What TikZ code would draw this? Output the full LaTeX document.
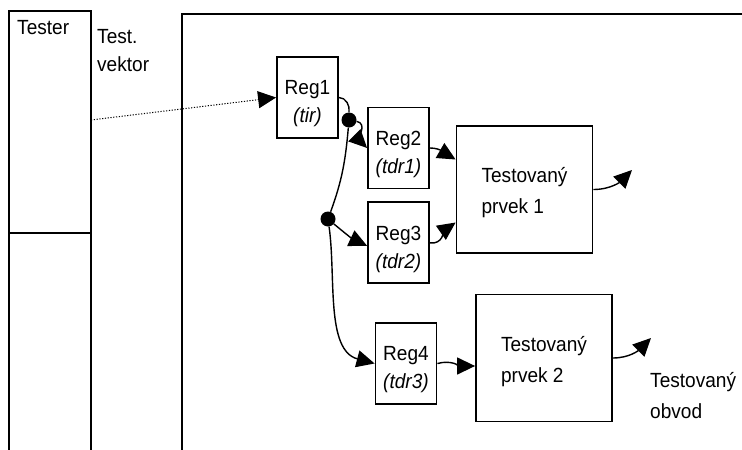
\documentclass[tikz,border=0pt]{standalone}
\usepackage{fontspec}
\setmainfont{Liberation Sans}[FakeStretch=0.93]
\usetikzlibrary{shapes,arrows.meta,positioning}

\newcommand{\topgap}[1]{\rule{0pt}{#1pt}}

\begin{document}
\begin{tikzpicture}[x=1pt, y=-1pt, font=\fontsize{20.5}{28}\selectfont]
    % Define block styles
    \tikzstyle{block} = [rectangle, draw, line width=1.8pt, inner sep=0pt, align=center, minimum width=61pt, minimum height=81pt]
    \tikzstyle{dut} = [rectangle, draw, line width=1.8pt, inner sep=0pt, align=left, minimum width=136pt, minimum height=127pt, font=\fontsize{20.5}{31}\selectfont]
    \tikzstyle{frame} = [draw, line width=1.8pt]
    \tikzstyle{line} = [draw, line width=1.4pt, -{Triangle[length=18pt,width=17pt]}]
    \tikzstyle{wire} = [draw, line width=1.4pt]
    \tikzstyle{junction} = [circle, fill, inner sep=0pt, minimum size=15pt]
    \tikzstyle{label} = [anchor=base west, inner sep=0pt, align=left]

    \useasboundingbox (0,0) rectangle (742,450);

    % Frames
    \path [frame] (9,455) -- (9,11) -- (91,11) -- (91,455);
    \path [frame] (9,233) -- (91,233);
    \path [frame] (182,455) -- (182,14) -- (745,14);

    % Labels
    \node [label] (Tester) at (17,34) {Tester};
    \node [label] (Vector_Label) at (97,71) {Test.\\vektor};
    \node [label, font=\fontsize{20.5}{31}\selectfont] (Circuit_Label) at (650,418) {Testovaný\\obvod};

    % Nodes
    \node [block] (Reg1) at (307.5,97.5) {\topgap{27}Reg1\\\textit{(tir)}};
    \node [block] (Reg2) at (398.5,148) {\topgap{27}Reg2\\\textit{(tdr1)}};
    \node [block, below=12pt of Reg2] (Reg3) {\topgap{27}Reg3\\\textit{(tdr2)}};
    \node [block] (Reg4) at (406,363.5) {\topgap{27}Reg4\\\textit{(tdr3)}};
    \node [dut] (Prvek1) at (524.5,189.5) {\topgap{22}Testovaný\\prvek 1};
    \node [dut] (Prvek2) at (544,358) {\topgap{22}Testovaný\\prvek 2};
    \node [junction] (Split1) at (349,120) {};
    \node [junction] (Split2) at (328,219) {};
    \coordinate (Vector_Out) at (91,120);
    \coordinate (Out1) at (632,170);
    \coordinate (Out2) at (651,338);

    % Arrows
    \path [line, line width=1pt, dash pattern=on 1.2pt off 1.6pt] (Vector_Out) -- (Reg1.west);
    \path [wire] (Reg1.east) to[out=0, in=80] (Split1.north);
    \path [wire] (Split1) to[out=-95, in=70] (Split2);
    \path [line] (Split1) to[out=-10, in=135] (Reg2.west);
    \path [line] (Split2) to[out=-40, in=155] ([yshift=-3pt]Reg3.west);
    \path [line] (Split2) to[out=-82, in=165, looseness=0.9] (Reg4.west);
    \path [line] (Reg2.east) to[out=0, in=150] ([yshift=30pt]Prvek1.west);
    \path [line] (Reg3.east) to[out=-10, in=215] ([yshift=-33pt]Prvek1.west);
    \path [line] (Reg4.east) to[out=15, in=180] ([yshift=-8pt]Prvek2.west);
    \path [line] (Prvek1.east) to[out=0, in=225] (Out1);
    \path [line] (Prvek2.east) to[out=0, in=225] (Out2);

\end{tikzpicture}
\end{document}
